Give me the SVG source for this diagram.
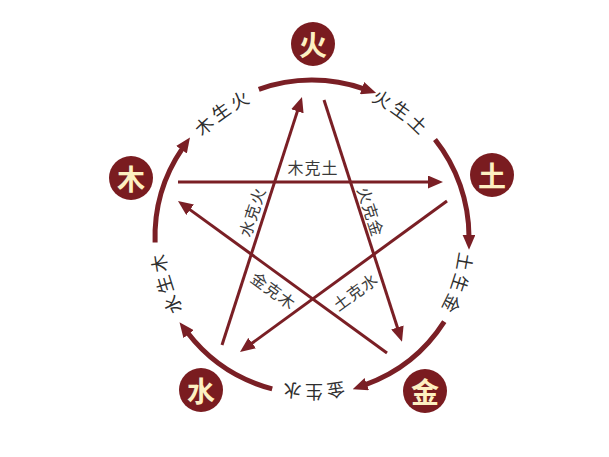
<svg xmlns="http://www.w3.org/2000/svg" width="609" height="457" viewBox="0 0 609 457">
<style>
.ring{fill:none;stroke:#7a1f25;stroke-width:5;marker-end:url(#ah)}
.star{fill:none;stroke:#7a1f25;stroke-width:3;marker-end:url(#ah)}
.node circle{fill:#7a1c20}
.node text{font-family:"Noto Sans CJK SC","Noto Sans",sans-serif;font-weight:bold;font-size:28px;fill:#fdf0c2;text-anchor:middle;dominant-baseline:central}
.lbl{font-family:"Noto Sans CJK SC","Noto Sans",sans-serif;font-size:18px;fill:#2e2e2e;letter-spacing:4px;text-anchor:middle;dominant-baseline:central}
.ilbl{font-family:"Noto Sans CJK SC","Noto Sans",sans-serif;font-size:16px;fill:#3a3a3a;letter-spacing:1px;text-anchor:middle;dominant-baseline:central}
</style>
<defs>
<marker id="ah" markerUnits="userSpaceOnUse" markerWidth="15" markerHeight="13" refX="2" refY="6.5" orient="auto" viewBox="0 0 15 13">
<path d="M0,0 L15,6.5 L0,13 Z" fill="#7a1f25"/>
</marker>
<path id="t1" d="M412.3,356.5 A156,156 0 0 1 211.7,356.5"/>
<path id="t2" d="M227.5,368.1 A156,156 0 0 1 168.2,176.5"/>
<path id="t3" d="M161.1,197.4 A156,156 0 0 1 324.8,81.5"/>
<path id="t4" d="M300.6,81.4 A156,156 0 0 1 463.2,198.7"/>
<path id="t5" d="M456.7,178.8 A156,156 0 0 1 394.4,369.4"/>
</defs>
<rect width="609" height="457" fill="#ffffff"/>
<g id="connectors">
<path class="ring" d="M155.1,242.5 A157,157 0 0 1 182.6,148.1"/>
<path class="ring" d="M258.8,89.3 A157,157 0 0 1 363.9,88.8"/>
<path class="ring" d="M435.0,139.5 A157,157 0 0 1 469.0,236.7"/>
<path class="ring" d="M444.3,321.6 A157,157 0 0 1 364.9,384.8"/>
<path class="ring" d="M272.2,388.9 A157,157 0 0 1 187.4,332.6"/>
<path class="star" d="M178,182 L430,182"/>
<path class="star" d="M324,100 L398,329.3"/>
<path class="star" d="M387,353 L188.5,208.6"/>
<path class="star" d="M222,345 L298,109.4"/>
<path class="star" d="M447,201 L250.5,344.3"/>
<text class="lbl"><textPath href="#t1" startOffset="50%">金生水</textPath></text>
<text class="lbl"><textPath href="#t2" startOffset="50%">水生木</textPath></text>
<text class="lbl"><textPath href="#t3" startOffset="50%">木生火</textPath></text>
<text class="lbl"><textPath href="#t4" startOffset="50%">火生土</textPath></text>
<text class="lbl"><textPath href="#t5" startOffset="50%">土生金</textPath></text>
<text class="ilbl" x="313" y="167">木克土</text>
<text class="ilbl" transform="translate(371.5,211.7) rotate(72)">火克金</text>
<text class="ilbl" transform="translate(251.5,211.7) rotate(-72)">水克火</text>
<text class="ilbl" transform="translate(274,290) rotate(36)">金克木</text>
<text class="ilbl" transform="translate(355,291) rotate(-36)">土克水</text>
</g>
<g id="node-huo" class="node"><circle cx="313" cy="44" r="22"/><text x="313" y="44">火</text></g>
<g id="node-mu" class="node"><circle cx="131" cy="178" r="22"/><text x="131" y="178">木</text></g>
<g id="node-tu" class="node"><circle cx="492" cy="175" r="22"/><text x="492" y="175">土</text></g>
<g id="node-shui" class="node"><circle cx="201" cy="390" r="22"/><text x="201" y="390">水</text></g>
<g id="node-jin" class="node"><circle cx="425" cy="391" r="22"/><text x="425" y="391">金</text></g>
</svg>
